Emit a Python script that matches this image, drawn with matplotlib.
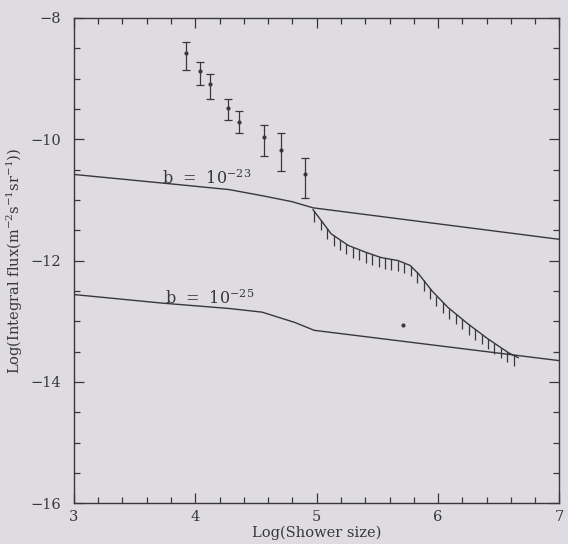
import numpy as np
import matplotlib
matplotlib.use("Agg")
import matplotlib.pyplot as plt
from matplotlib.ticker import MultipleLocator

# measured points with error bars
size_pts = [3.92, 4.04, 4.12, 4.27, 4.36, 4.57, 4.71, 4.90]
flux_pts = [-8.57, -8.88, -9.09, -9.48, -9.71, -9.96, -10.17, -10.58]
err_lo = [0.28, 0.23, 0.25, 0.21, 0.19, 0.32, 0.36, 0.39]
err_hi = [0.17, 0.16, 0.16, 0.14, 0.17, 0.20, 0.27, 0.27]

# b = 1e-23 curve
b23_x = [3.0, 3.72, 4.28, 4.55, 4.80, 4.97, 7.0]
b23_y = [-10.58, -10.72, -10.83, -10.93, -11.03, -11.13, -11.65]

# b = 1e-25 curve
b25_x = [3.0, 3.72, 4.28, 4.55, 4.82, 4.98, 7.0]
b25_y = [-12.56, -12.70, -12.79, -12.85, -13.02, -13.15, -13.65]

# upper limit (hatched) curve
lim_x = [4.97, 5.12, 5.26, 5.40, 5.53, 5.67, 5.77, 5.84, 5.95, 6.08, 6.25, 6.41, 6.58, 6.66]
lim_y = [-11.16, -11.56, -11.75, -11.86, -11.95, -12.00, -12.08, -12.22, -12.50, -12.77, -13.05, -13.29, -13.52, -13.60]

# lone point
dot_x = [5.71]
dot_y = [-13.06]

paper = "#dedce1"
ink = "#383838"

plt.rcParams['font.family'] = ['DejaVu Serif']
plt.rcParams['mathtext.fontset'] = 'dejavuserif'

fig = plt.figure(figsize=(5.68, 5.44), dpi=100, facecolor=paper)
ax = fig.add_axes([0.13, 0.075, 0.855, 0.892], facecolor=paper)

ax.plot(b23_x, b23_y, color=ink, lw=1.0)
ax.plot(b25_x, b25_y, color=ink, lw=1.0)

ax.plot(lim_x, lim_y, color=ink, lw=1.0)
hx = np.arange(lim_x[0] + 0.01, lim_x[-1] + 0.01, 0.053)
hy = np.interp(hx, lim_x, lim_y)
ax.vlines(hx, hy - 0.17, hy, color=ink, lw=0.9)

ax.errorbar(size_pts, flux_pts, yerr=[err_lo, err_hi], fmt='.', color=ink,
            ms=4, capsize=3, elinewidth=0.9, capthick=0.9)
ax.plot(dot_x, dot_y, '.', color=ink, ms=4)

ax.text(3.73, -10.73, r"b  =  10$^{-23}$", fontsize=11.5, color=ink)
ax.text(3.75, -12.71, r"b  =  10$^{-25}$", fontsize=11.5, color=ink)

ax.set_xlim(3, 7)
ax.set_ylim(-16, -8)
ax.xaxis.set_major_locator(MultipleLocator(1))
ax.xaxis.set_minor_locator(MultipleLocator(0.2))
ax.yaxis.set_major_locator(MultipleLocator(2))
ax.yaxis.set_minor_locator(MultipleLocator(0.5))
ax.tick_params(which='both', direction='in', top=True, right=True, colors=ink,
               labelsize=10.5, width=0.9)
ax.tick_params(which='major', length=7)
ax.tick_params(which='minor', length=4)
ax.tick_params(axis='y', pad=9)
ax.tick_params(axis='x', pad=5)
for s in ax.spines.values():
    s.set_color(ink)
    s.set_linewidth(1.0)

ax.set_xlabel("Log(Shower size)", fontsize=10.5, color=ink, labelpad=1)
ax.set_ylabel(r"Log(Integral flux(m$^{-2}$s$^{-1}$sr$^{-1}$))", fontsize=10.5, color=ink)
ax.yaxis.set_label_coords(-0.1, 0.5)

fig.savefig("out.png", dpi=100, facecolor=paper)
